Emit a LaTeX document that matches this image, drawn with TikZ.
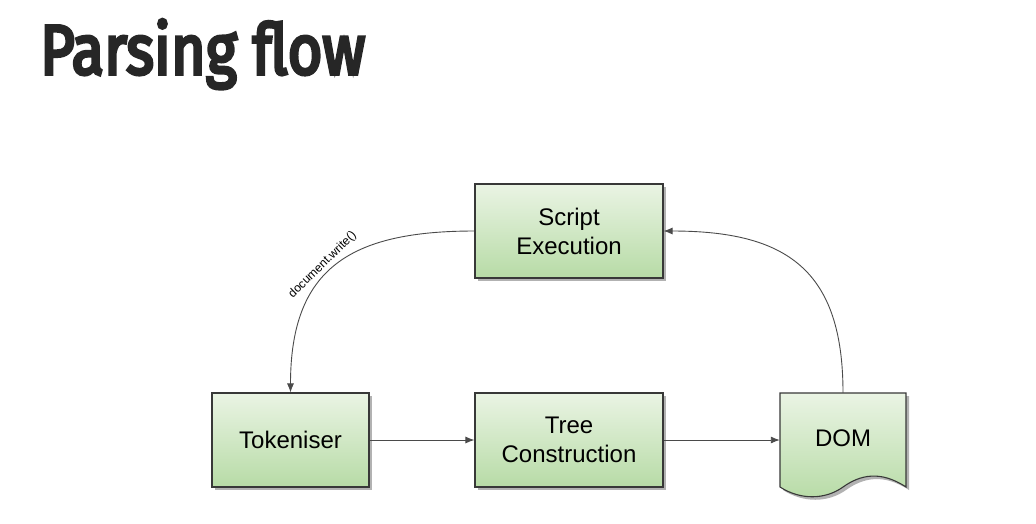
\documentclass[tikz,border=0pt]{standalone}
\usepackage{fontspec}
\setmainfont{Liberation Sans}
\newfontfamily\titlefont{Fira Sans}
\usetikzlibrary{shadows,arrows.meta}
\definecolor{boxtop}{HTML}{EAF4E4}
\definecolor{boxbot}{HTML}{B7DBA6}
\definecolor{boxline}{HTML}{383838}
\definecolor{conn}{HTML}{4A4A4A}
\tikzset{
  flowbox/.style={draw=boxline, line width=1.1pt, top color=boxtop, bottom color=boxbot,
    align=center, font=\fontsize{24}{29}\selectfont, inner sep=0pt,
    drop shadow={shadow xshift=3pt, shadow yshift=-3pt, fill=black, opacity=0.3}},
  flowarrow/.style={draw=conn, line width=0.9pt, -{Latex[length=9pt,width=7pt]}}
}
\begin{document}
\begin{tikzpicture}[x=1pt,y=1pt]
\useasboundingbox (0,0) rectangle (1036,-523);
% title
\node[anchor=base west, inner sep=0pt, text=black!85] (title) at (40,-74)
  {\resizebox{325pt}{\height}{\titlefont\addfontfeature{FakeBold=5}\fontsize{70}{70}\selectfont Parsing flow}};
% boxes
\node[flowbox, minimum width=157pt, minimum height=94pt] (tok) at (290.5,-440) {Tokeniser};
\node[flowbox, minimum width=188pt, minimum height=94pt] (tree) at (569,-440) {Tree\\Construction};
\node[flowbox, minimum width=188pt, minimum height=94pt] (script) at (569,-231) {Script\\Execution};
% DOM document shape
\fill[black, opacity=0.3, xshift=3pt, yshift=-3pt]
  (780,-393) -- (906,-393) -- (906,-487) .. controls (880,-470) and (860,-475) .. (843,-487)
  .. controls (825,-500) and (800,-500) .. (780,-487) -- cycle;
\draw[draw=boxline, line width=1.1pt, top color=boxtop, bottom color=boxbot]
  (780,-393) -- (906,-393) -- (906,-487) .. controls (880,-470) and (860,-475) .. (843,-487)
  .. controls (825,-500) and (800,-500) .. (780,-487) -- cycle;
\node[minimum width=126pt, minimum height=94pt, inner sep=0pt] (dom) at (843,-440) {};
\node[font=\fontsize{24}{29}\selectfont, inner sep=0pt] (domtext) at (843,-438) {DOM};
% connectors
\draw[flowarrow] (tok.east) -- (tree.west);
\draw[flowarrow] (tree.east) -- (dom.west);
\draw[flowarrow] (dom.north) to[out=90,in=0,looseness=1.3] (script.east);
\draw[flowarrow] (script.west) to[out=180,in=90,looseness=1.3]
  node[pos=0.54, sloped, above, font=\fontsize{12}{12}\selectfont, inner sep=3pt] (lbl) {document.write()} (tok.north);
\end{tikzpicture}
\end{document}
